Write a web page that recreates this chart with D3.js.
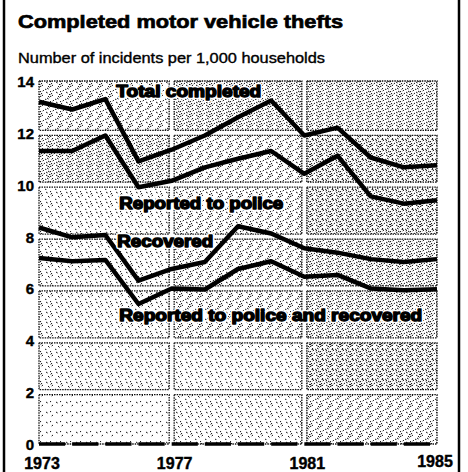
<!DOCTYPE html>
<html>
<head>
<meta charset="utf-8">
<script src="https://cdn.jsdelivr.net/npm/d3@7/dist/d3.min.js"></script>
<style>
  body { margin: 0; background: #fff; }
  text { font-family: "Liberation Sans", Arial, sans-serif; fill: #000; }
</style>
</head>
<body>
<div class="canvas"></div>
<script>
// data
const years = [1973, 1974, 1975, 1976, 1977, 1978, 1979, 1980, 1981, 1982, 1983, 1984, 1985];
const totalCompleted = [13.2, 12.9, 13.3, 10.9, 11.35, 11.9, 12.6, 13.25, 11.9, 12.2, 11.05, 10.67, 10.75];
const reportedToPolice = [11.3, 11.3, 11.9, 9.9, 10.15, 10.67, 11.0, 11.3, 10.42, 11.12, 9.55, 9.27, 9.4];
const recovered = [8.35, 7.97, 8.06, 6.3, 6.75, 7.02, 8.4, 8.12, 7.55, 7.38, 7.13, 7.02, 7.13];
const reportedAndRecovered = [7.17, 7.05, 7.1, 5.4, 6.0, 5.96, 6.75, 7.05, 6.45, 6.52, 6.0, 5.93, 5.97];
const seriesNames = ['Total completed', 'Reported to police', 'Recovered', 'Reported to police and recovered'];
const yTicks = [0, 2, 4, 6, 8, 10, 12, 14];
const xTicks = [1973, 1977, 1981, 1985];

const dims = {width: 468, height: 472};

const svg = d3.select('.canvas')
	.append('svg')
	.attr('width', dims.width)
	.attr('height', dims.height);

const x = d3.scaleLinear().domain([1973, 1985]).range([39, 437]);
const y = d3.scaleLinear().domain([0, 14]).range([444, 81]);

// stipple patterns, light to dense
const specks = [[1,1],[6,2],[3,5],[8,6],[0,8],[5,9],[2,3],[7,8],[4,0],[9,4],
	[1,6],[6,5],[3,8],[8,1],[5,3],[0,4],[7,0],[2,9],[9,7],[4,6]];
const speckCount = [3, 7, 11, 15, 18];

const defs = svg.append('defs');
speckCount.forEach((n, i) => {
	const p = defs.append('pattern')
		.attr('id', 'stip' + i)
		.attr('patternUnits', 'userSpaceOnUse')
		.attr('width', 10)
		.attr('height', 10);
	p.append('rect').attr('width', 10).attr('height', 10).attr('fill', '#fff');
	p.selectAll('path')
		.data(specks.slice(0, n))
		.enter()
		.append('path')
			.attr('d', (d, j) => `M${d[0]},${d[1]}l${j % 2 ? 1.6 : -1.3},${j % 3 ? 1 : 1.5}`)
			.attr('stroke', '#111')
			.attr('stroke-width', 1);
});

// background cells: 3 columns of years x 7 bands of 2 incidents
const colEdges = [1973, 1977, 1981, 1985];
const density = [ // top band first
	[2, 3, 3],
	[3, 2, 4],
	[1, 2, 4],
	[1, 2, 3],
	[1, 2, 3],
	[1, 1, 4],
	[0, 1, 2]
];
const cells = [];
for (let r = 0; r < 7; r++) {
	for (let c = 0; c < 3; c++) {
		const hi = 14 - r * 2, lo = hi - 2;
		cells.push({x0: colEdges[c], x1: colEdges[c + 1], lo, hi, d: density[r][c]});
	}
}

const gap = 2.5;
svg.append('g').selectAll('rect')
	.data(cells)
	.enter()
	.append('rect')
		.attr('x', d => x(d.x0) + (d.x0 === 1973 ? 0 : gap))
		.attr('width', d => x(d.x1) - x(d.x0) - (d.x0 === 1973 ? 0 : gap) - (d.x1 === 1985 ? 0 : gap))
		.attr('y', d => y(d.hi) + (d.hi === 14 ? 0 : gap))
		.attr('height', d => y(d.lo) - y(d.hi) - (d.hi === 14 ? 0 : gap) - (d.lo === 0 ? 0 : gap))
		.attr('fill', d => `url(#stip${d.d})`)
		.attr('stroke', '#111')
		.attr('stroke-width', 1.3)
		.attr('stroke-dasharray', '1.5 1');

// zero baseline, one dash per year
const yearW = x(1974) - x(1973);
svg.append('line')
	.attr('x1', x(1973)).attr('x2', x(1985))
	.attr('y1', y(0)).attr('y2', y(0))
	.attr('stroke', '#000')
	.attr('stroke-width', 3.5)
	.attr('stroke-dasharray', `${yearW - 7} 7`);

// lines
const line = d3.line()
	.x((d, i) => x(years[i]))
	.y(d => y(d));

svg.append('g').selectAll('path')
	.data([totalCompleted, reportedToPolice, recovered, reportedAndRecovered])
	.enter()
	.append('path')
		.attr('d', line)
		.attr('fill', 'none')
		.attr('stroke', '#000')
		.attr('stroke-width', 4.5)
		.attr('stroke-linejoin', 'round');

// series labels
const labels = [
	{name: seriesNames[0], yr: 1975.33, v: 13.4, w: 145},
	{name: seriesNames[1], yr: 1975.42, v: 9.07, w: 164},
	{name: seriesNames[2], yr: 1975.36, v: 7.6, w: 96},
	{name: seriesNames[3], yr: 1975.42, v: 4.75, w: 303}
];
const lab = svg.append('g').selectAll('g')
	.data(labels)
	.enter()
	.append('g')
		.attr('transform', d => `translate(${x(d.yr)}, ${y(d.v)})`);
lab.append('text')
	.attr('font-size', 16)
	.attr('font-weight', 'bold')
	.attr('textLength', d => d.w)
	.attr('lengthAdjust', 'spacingAndGlyphs')
	.attr('stroke', '#fff')
	.attr('stroke-width', 4)
	.attr('stroke-linejoin', 'round')
	.style('fill', '#fff')
	.text(d => d.name);
lab.append('text')
	.attr('font-size', 16)
	.attr('font-weight', 'bold')
	.attr('textLength', d => d.w)
	.attr('lengthAdjust', 'spacingAndGlyphs')
	.attr('stroke', '#000')
	.attr('stroke-width', 1.4)
	.attr('stroke-linejoin', 'round')
	.text(d => d.name);

// axes labels
svg.append('g').selectAll('text')
	.data(yTicks)
	.enter()
	.append('text')
		.attr('x', 34)
		.attr('y', d => y(d) + 6)
		.attr('text-anchor', 'end')
		.attr('font-size', 15)
		.attr('font-weight', 'bold')
		.attr('stroke', '#000')
		.attr('stroke-width', 0.4)
		.text(d => d);

svg.append('g').selectAll('text')
	.data(xTicks)
	.enter()
	.append('text')
		.attr('x', d => x(d) + (d === 1985 ? -2 : 3))
		.attr('y', d => d === 1985 ? 467 : 469)
		.attr('text-anchor', 'middle')
		.attr('font-size', 16)
		.attr('font-weight', 'bold')
		.attr('stroke', '#000')
		.attr('stroke-width', 0.4)
		.text(d => d);

// title
svg.append('text')
	.attr('x', 18).attr('y', 28)
	.attr('font-size', 19)
	.attr('font-weight', 'bold')
	.attr('textLength', 325)
	.attr('lengthAdjust', 'spacingAndGlyphs')
	.attr('stroke', '#000')
	.attr('stroke-width', 0.7)
	.text('Completed motor vehicle thefts');

svg.append('text')
	.attr('x', 18).attr('y', 63)
	.attr('font-size', 14)
	.attr('textLength', 307)
	.attr('lengthAdjust', 'spacingAndGlyphs')
	.attr('stroke', '#000')
	.attr('stroke-width', 0.35)
	.text('Number of incidents per 1,000 households');

// frame
svg.append('line').attr('x1', 4).attr('x2', 4).attr('y1', 0).attr('y2', dims.height)
	.attr('stroke', '#000').attr('stroke-width', 2.5);
svg.append('line').attr('x1', 459).attr('x2', 459).attr('y1', 0).attr('y2', dims.height)
	.attr('stroke', '#000').attr('stroke-width', 2.5);
</script>
</body>
</html>
